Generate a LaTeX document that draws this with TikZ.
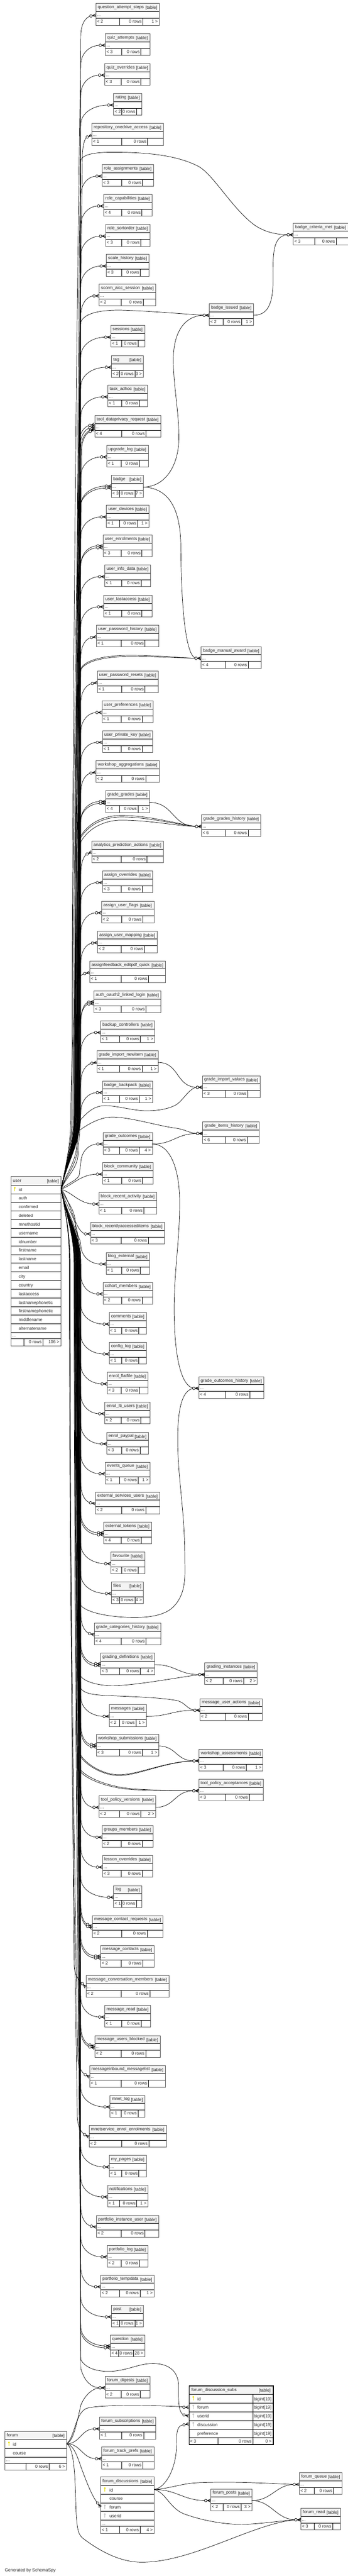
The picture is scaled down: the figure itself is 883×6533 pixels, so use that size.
\documentclass[tikz,border=0pt]{standalone}
\usepackage{fontspec}
\setmainfont{Liberation Sans}
\definecolor{titlebg}{HTML}{F4F4F4}
\definecolor{framegrey}{HTML}{555555}
\definecolor{keyyellow}{HTML}{E8E000}
\definecolor{keygrey}{HTML}{BBBBBB}
\tikzset{
  rel/.style={draw=black,line width=.7pt},
  rowline/.style={draw=black,line width=.75pt},
  tframe/.style={draw=framegrey,line width=.8pt,rectangle,inner sep=0pt},
  ttext/.style={inner sep=0pt,font=\fontsize{8.25pt}{9pt}\selectfont,text=black!85},
  keyp/.style={draw=keyyellow,line width=.9pt},
  keyf/.style={draw=keygrey,line width=.9pt},
  keyn/.style={draw=none},
  ringdot/.style={draw=black,fill=white,line width=.7pt},
  crowline/.style={draw=black,line width=.85pt},
}
\newcommand\setz[2]{\gdef\zoff{#1}\gdef\zsc{#2}}
\newcommand\storeT[3]{%
  \expandafter\xdef\csname XL@#1\endcsname{#2}%
  \expandafter\xdef\csname YM@#1\endcsname{#3}}
% name xl xr d1 d2 top footL footR (zoom coordinates)
\newcommand\tbl[8]{%
  \pgfmathsetmacro\mXl{#2/1.7531}\pgfmathsetmacro\mXr{#3/1.7531}%
  \pgfmathsetmacro\mDa{#4/1.7531}\pgfmathsetmacro\mDb{#5/1.7531}%
  \pgfmathsetmacro\mYt{\zoff+#6/\zsc}%
  \pgfmathsetmacro\mYm{\mYt+30}%
  \storeT{#1}{\mXl}{\mYm}%
  \pgfmathsetmacro\mW{(\mXr-\mXl)*.75}%
  \fill[titlebg] (\mXl,\mYt) rectangle (\mXr,\mYt+21);
  \draw[rowline] (\mXl,\mYt+21) -- (\mXr,\mYt+21) (\mXl,\mYt+38) -- (\mXr,\mYt+38)
     (\mDa,\mYt+38) -- (\mDa,\mYt+55) (\mDb,\mYt+38) -- (\mDb,\mYt+55);
  \node[tframe,anchor=north west,minimum width=\mW pt,minimum height=41.25pt] (#1) at (\mXl,\mYt) {};
  \coordinate (#1-w) at (\mXl,\mYm);
  \coordinate (#1-c) at (\mXl-12.3,\mYm);
  \coordinate (#1-e) at (\mXr,\mYm);
  \node[ttext,anchor=base west] (#1-name) at (\mXl+5,\mYt+13.5) {\detokenize{#1}};
  \node[ttext,anchor=base east] (#1-tag) at (\mXr-4.5,\mYt+15) {[table]};
  \node[ttext,anchor=base west] (#1-dots) at (\mXl+3,\mYt+33) {...};
  \node[ttext,anchor=base west] (#1-fl) at (\mXl+3,\mYt+50) {< #7};
  \node[ttext,anchor=base east] (#1-fm) at (\mDb-3,\mYt+50) {0 rows};
  \if\relax\detokenize{#8}\relax\else
  \node[ttext,anchor=base east] (#1-fr) at (\mXr-3,\mYt+50) {#8 >};
  \fi
}
% table with rows: name xl xr top(px) d1 d2 rows footL footR ; \keydx \txtdx
\newcommand\rowtbl[9]{%
  \pgfmathsetmacro\mH{22+22*\rowsn}%
  \fill[titlebg] (#2,#4) rectangle (#3,#4+22);
  \draw[rowline] (#2,#4+22) -- (#3,#4+22);
  \node[ttext,anchor=base west] (#1-name) at (#2+5,#4+14) {\detokenize{#1}};
  \node[ttext,anchor=base east] (#1-tag) at (#3-4.5,#4+15.5) {[table]};
  \foreach \rn/\rk [count=\ri] in {#7} {
    \draw[rowline] (#2,#4+22+22*\ri) -- (#3,#4+22+22*\ri);
    \node[ttext,anchor=base west] (#1-row\ri) at (#2+\txtdx,#4+15.5+22*\ri) {\rn};
    \draw[\rk] (#2+\keydx,#4+7+22*\ri) circle (1.6) (#2+\keydx,#4+8.5+22*\ri) -- (#2+\keydx,#4+15.5+22*\ri);
  }
  \draw[rowline] (#2,#4+\mH+16) -- (#3,#4+\mH+16)
     (#5,#4+\mH+16) -- (#5,#4+\mH+33) (#6,#4+\mH+16) -- (#6,#4+\mH+33);
  \pgfmathsetmacro\mW{(#3-#2)*.75}\pgfmathsetmacro\mHt{(\mH+33)*.75}%
  \node[tframe,anchor=north west,minimum width=\mW pt,minimum height=\mHt pt] (#1) at (#2,#4) {};
  \node[ttext,anchor=base west] (#1-dots) at (#2+3,#4+\mH+11) {...};
  \if\relax\detokenize{#8}\relax\else
  \node[ttext,anchor=base west] (#1-fl) at (#2+3,#4+\mH+28) {< #8};
  \fi
  \node[ttext,anchor=base east] (#1-fm) at (#6-3,#4+\mH+28) {0 rows};
  \node[ttext,anchor=base east] (#1-fr) at (#3-3,#4+\mH+28) {#9 >};
}
\newcommand\crowat[3]{\begin{scope}[shift={(#1,#2)},rotate=#3]
  \draw[crowline] (-9,0) -- (0,-3.6) (-9,0) -- (0,0) (-9,0) -- (0,3.6);
  \draw[ringdot] (-12.3,0) circle (3.3);
\end{scope}}
\newcommand\crow[2]{\crowat{\csname XL@#1\endcsname}{\csname YM@#1\endcsname}{#2}}
\newcommand\upath[4]{%
  \pgfmathsetmacro\mSg{ifthenelse(#3<3016,-1,1)}%
  \pgfmathsetmacro\mD{min(190,0.6*abs(#3-3016))}%
  \pgfmathsetmacro\mPy{3016+\mSg*\mD}%
  \pgfmathsetmacro\mLl{abs(#3-\mPy)}%
  \pgfmathsetmacro\mCa{3016+\mSg*0.35*\mD}%
  \pgfmathsetmacro\mCb{3016+\mSg*0.6*\mD}%
  \pgfmathsetmacro\mCc{\mPy+\mSg*0.5*\mLl}%
  \pgfmathsetmacro\mCd{#3-\mSg*min(80,0.3*\mLl)}%
  \draw[rel] (user-e) .. controls (168,\mCa) and (#1,\mCb) .. (#1,\mPy) .. controls (#1,\mCc) and (#2,\mCd) .. (#2,#3) #4;
}
% T bx wx tilt dy
\newcommand\ulnk[5]{%
  \pgfmathsetmacro\mEx{\csname XL@#1\endcsname-12.3*cos(#4)}%
  \pgfmathsetmacro\mYe{\csname YM@#1\endcsname+#5}%
  \pgfmathsetmacro\mEy{\mYe+12.3*sin(#4)}%
  \pgfmathsetmacro\mSg{ifthenelse(\mEy<3016,-1,1)}%
  \pgfmathsetmacro\mWy{\mEy-\mSg*48}%
  \pgfmathsetmacro\mK{0.55*(\mEx-#3)}%
  \pgfmathsetmacro\mFx{\mEx-\mK*cos(#4)}%
  \pgfmathsetmacro\mFy{\mEy+\mK*sin(#4)}%
  \pgfmathsetmacro\mGy{\mWy+\mSg*28}%
  \edef\mRest{.. controls (#3+1,\mGy) and (\mFx,\mFy) .. (\mEx,\mEy)}%
  \upath{#2}{#3}{\mWy}{\mRest}%
  \crowat{\csname XL@#1\endcsname}{\mYe}{#4}%
}
\newcount\Un
\newcommand\nextbx{\global\advance\Un by 1 \pgfmathsetmacro\mBx{188+mod(\the\Un*7,18)}}
\newcommand\U[1]{\nextbx\ulnk{#1}{\mBx}{205}{0}{0}}
\newcommand\Ut[2]{\nextbx\ulnk{#1}{\mBx}{205}{#2}{0}}
\newcommand\UU[2]{\nextbx\ulnk{#1}{\mBx}{205}{#2}{-2.5}\nextbx\ulnk{#1}{\mBx}{204}{#2}{2.5}}
\newcommand\Sl[3]{\draw[rel] (#1) to[out=0,in=180,looseness=#3] (#2-c); \crow{#2}{0}}
\begin{document}
\begin{tikzpicture}[x=.75pt,y=-.75pt]
\useasboundingbox (0,0) rectangle (883,6533);
\fill[white] (0,0) rectangle (883,6533);
\setz{0}{1.4255}
\tbl{question_attempt_steps}{426}{708}{533}{636}{12}{2}{1}
\tbl{quiz_attempts}{468}{666}{541}{627}{121}{3}{}
\tbl{quiz_overrides}{465}{667}{539}{627}{229}{3}{}
\tbl{rating}{505}{630}{541}{608}{337}{2}{}
\tbl{repository_onedrive_access}{408}{726}{541}{657}{446}{1}{}
\tbl{role_assignments}{453}{682}{541}{634}{594}{3}{}
\tbl{role_capabilities}{460}{675}{541}{631}{702}{4}{}
\tbl{role_sortorder}{469}{666}{541}{627}{811}{3}{}
\tbl{scale_history}{472}{662}{541}{625}{919}{3}{}
\tbl{scorm_aicc_session}{440}{692}{539}{638}{1027}{2}{}
\tbl{sessions}{492}{643}{541}{614}{1176}{1}{}
\tbl{tag}{495}{637}{533}{600}{1285}{2}{3}
\tbl{task_adhoc}{479}{655}{541}{621}{1392}{1}{}
\tbl{tool_dataprivacy_request}{421}{714}{541}{650}{1501}{4}{}
\tbl{badge_criteria_met}{1304}{1548}{1400}{1496}{806}{3}{}
\tbl{badge_issued}{930}{1127}{993}{1075}{1097}{2}{1}
\setz{1100}{1.4255}
\tbl{upgrade_log}{474}{659}{539}{621}{41}{1}{}
\tbl{badge}{495}{637}{533}{600}{150}{3}{7}
\tbl{user_devices}{473}{662}{533}{612}{258}{1}{1}
\tbl{user_enrolments}{457}{676}{539}{631}{366}{3}{}
\tbl{user_info_data}{465}{669}{541}{628}{474}{1}{}
\tbl{user_lastaccess}{460}{675}{541}{631}{583}{1}{}
\tbl{user_password_history}{428}{705}{539}{645}{691}{1}{}
\tbl{user_password_resets}{432}{703}{541}{645}{857}{1}{}
\tbl{user_preferences}{453}{680}{539}{632}{965}{1}{}
\tbl{user_private_key}{455}{678}{539}{632}{1073}{1}{}
\tbl{workshop_aggregations}{426}{708}{541}{648}{1181}{2}{}
\tbl{grade_grades}{469}{664}{533}{614}{1290}{4}{1}
\tbl{analytics_prediction_actions}{407}{726}{539}{654}{1472}{2}{}
\tbl{badge_manual_award}{894}{1162}{1002}{1105}{769}{4}{}
\tbl{grade_grades_history}{896}{1160}{1002}{1104}{1377}{6}{}
\setz{2200}{1.4255}
\tbl{assign_overrides}{455}{678}{539}{632}{12}{3}{}
\tbl{assign_user_flags}{451}{684}{541}{635}{121}{2}{}
\tbl{assign_user_mapping}{433}{699}{539}{643}{229}{2}{}
\tbl{assignfeedback_editpdf_quick}{398}{735}{539}{661}{337}{1}{}
\tbl{auth_oauth2_linked_login}{417}{715}{539}{650}{446}{3}{}
\tbl{backup_controllers}{447}{687}{533}{625}{554}{1}{1}
\tbl{grade_import_newitem}{430}{703}{533}{632}{662}{1}{1}
\tbl{badge_backpack}{455}{678}{533}{620}{771}{1}{1}
\tbl{grade_import_values}{900}{1157}{1002}{1102}{752}{3}{}
\tbl{grade_items_history}{901}{1153}{1001}{1100}{919}{6}{}
\tbl{grade_outcomes}{457}{677}{533}{620}{957}{3}{4}
\tbl{block_community}{455}{680}{541}{634}{1066}{1}{}
\tbl{block_recent_activity}{439}{696}{541}{640}{1174}{1}{}
\tbl{block_recentlyaccesseditems}{402}{731}{539}{660}{1282}{3}{}
\tbl{blog_external}{471}{664}{541}{625}{1391}{1}{}
\tbl{cohort_members}{457}{678}{541}{632}{1499}{2}{}
\setz{3300}{1.4255}
\tbl{comments}{485}{650}{541}{618}{40}{1}{}
\tbl{config_log}{485}{650}{541}{618}{148}{1}{}
\tbl{enrol_flatfile}{476}{657}{539}{621}{256}{3}{}
\tbl{enrol_lti_users}{465}{667}{539}{627}{364}{2}{}
\tbl{enrol_paypal}{474}{660}{541}{623}{473}{3}{}
\tbl{events_queue}{467}{666}{533}{615}{581}{1}{1}
\tbl{external_services_users}{424}{710}{541}{648}{689}{2}{}
\tbl{external_tokens}{460}{673}{539}{628}{798}{4}{}
\tbl{favourite}{492}{643}{541}{614}{906}{2}{}
\tbl{files}{495}{637}{533}{600}{1014}{3}{4}
\tbl{grade_categories_history}{419}{714}{539}{650}{1163}{4}{}
\tbl{grading_definitions}{447}{687}{533}{625}{1271}{3}{4}
\tbl{messages}{485}{650}{533}{605}{1458}{2}{1}
\tbl{grade_outcomes_history}{884}{1173}{1002}{1111}{272}{4}{}
\tbl{grading_instances}{910}{1144}{993}{1084}{1307}{2}{2}
\tbl{message_user_actions}{889}{1166}{1001}{1105}{1436}{2}{}
\setz{4400}{1.4255}
\tbl{workshop_submissions}{428}{705}{533}{634}{-3}{3}{1}
\tbl{workshop_assessments}{885}{1169}{993}{1096}{51}{3}{1}
\tbl{tool_policy_acceptances}{884}{1171}{1001}{1109}{159}{3}{}
\tbl{tool_policy_versions}{440}{692}{533}{627}{219}{2}{2}
\tbl{groups_members}{453}{680}{539}{632}{327}{2}{}
\tbl{lesson_overrides}{455}{678}{539}{632}{435}{3}{}
\tbl{log}{505}{630}{541}{608}{544}{1}{}
\tbl{message_contact_requests}{410}{724}{541}{655}{652}{2}{}
\tbl{message_contacts}{447}{685}{539}{635}{760}{2}{}
\tbl{message_conversation_members}{382}{751}{539}{667}{869}{2}{}
\tbl{message_read}{465}{669}{541}{628}{977}{1}{}
\tbl{message_users_blocked}{421}{712}{539}{648}{1086}{2}{}
\tbl{messageinbound_messagelist}{398}{735}{539}{661}{1194}{1}{}
\tbl{mnet_log}{489}{644}{539}{614}{1302}{1}{}
\tbl{mnetservice_enrol_enrolments}{396}{739}{541}{662}{1411}{2}{}
\tbl{my_pages}{485}{650}{541}{618}{1519}{1}{}
\setz{5500}{1.518}
\tbl{notifications}{478}{657}{533}{609}{63}{1}{1}
\tbl{portfolio_instance_user}{428}{705}{539}{645}{179}{2}{}
\tbl{portfolio_log}{476}{657}{539}{621}{294}{2}{}
\tbl{portfolio_tempdata}{447}{685}{533}{623}{409}{2}{1}
\tbl{post}{495}{637}{533}{600}{525}{1}{1}
\tbl{question}{490}{643}{527}{595}{640}{4}{28}
\tbl{forum_digests}{467}{666}{539}{625}{798}{2}{}
\tbl{forum_subscriptions}{442}{692}{541}{639}{956}{1}{}
\tbl{forum_track_prefs}{451}{684}{541}{635}{1071}{1}{}
\tbl{forum_posts}{937}{1120}{993}{1072}{1232}{2}{3}
\tbl{forum_queue}{1331}{1521}{1399}{1484}{1170}{2}{}
\tbl{forum_read}{1338}{1514}{1399}{1480}{1306}{3}{}
% tables with rows
\def\rowsn{17}\def\keydx{10}\def\txtdx{20}
\rowtbl{user}{27.4}{154}{2983.5}{60.5}{109}{id/keyp,auth/keyn,confirmed/keyn,deleted/keyn,mnethostid/keyn,username/keyn,idnumber/keyn,firstname/keyn,lastname/keyn,email/keyn,city/keyn,country/keyn,lastaccess/keyn,lastnamephonetic/keyn,firstnamephonetic/keyn,middlename/keyn,alternatename/keyn}{}{106}
\coordinate (user-e) at (155,3016);
\def\rowsn{2}\def\keydx{10.8}\def\txtdx{20.5}
\rowtbl{forum}{12}{168.3}{6165.3}{65.6}{125}{id/keyp,course/keyn}{}{6}
\coordinate (forum-e) at (169,6197.6);
\def\rowsn{4}\def\keydx{11}\def\txtdx{23}
\rowtbl{forum_discussions}{255}{391}{6281.3}{304}{356}{id/keyp,course/keyn,forum/keyf,userid/keyf}{1}{4}
\coordinate (forum_discussions-e) at (391,6313.6);
% focal table
\fill[titlebg] (479,6050) rectangle (692.5,6072.5);
\draw[rowline] (479,6072.5) -- (692.5,6072.5);
\node[ttext,anchor=base west] (subs-name) at (485.5,6064) {\detokenize{forum_discussion_subs}};
\node[ttext,anchor=base east] (subs-tag) at (687,6065.5) {[table]};
\foreach \rn/\rk [count=\ri] in {id/keyp,forum/keyf,userid/keyf,discussion/keyf,preference/keyn} {
  \draw[rowline] (479,6072.5+22*\ri) -- (692.5,6072.5+22*\ri);
  \node[ttext,anchor=base west] (subs-row\ri) at (500.8,6065.5+22*\ri) {\rn};
  \node[ttext,anchor=base west] (subs-type\ri) at (644,6065.5+22*\ri) {bigint[19]};
  \draw[\rk] (490.6,6057+22*\ri) circle (1.6) (490.6,6058.5+22*\ri) -- (490.6,6065.5+22*\ri);
}
\draw[rowline] (641.7,6072.5) -- (641.7,6199) (552.7,6182.5) -- (552.7,6199);
\node[draw=black,line width=1.6pt,rectangle,inner sep=0pt,anchor=north west,minimum width=160.1pt,minimum height=111.7pt] (subs) at (479,6050) {};
\node[ttext,anchor=base west] (subs-fl) at (482,6195) {< 3};
\node[ttext,anchor=base east] (subs-fm) at (638.7,6195) {0 rows};
\node[ttext,anchor=base east] (subs-fr) at (689.5,6195) {0 >};
\coordinate (subs-forum) at (467.8,6104);
\coordinate (subs-userid) at (467,6124.4);
\coordinate (subs-disc) at (467,6149.6);
\node[ttext,anchor=base west] (credit) at (12,6522) {Generated by SchemaSpy};
% ---- links from user
\nextbx\ulnk{question_attempt_steps}{183}{205}{10}{0}
\U{quiz_attempts}
\U{quiz_overrides}
\U{rating}
\nextbx\ulnk{repository_onedrive_access}{190}{209}{22}{0}
\U{role_assignments}
\U{role_capabilities}
\U{role_sortorder}
\U{scale_history}
\U{scorm_aicc_session}
\U{sessions}
\U{tag}
\U{task_adhoc}
\ulnk{tool_dataprivacy_request}{183}{200}{12}{-7}
\ulnk{tool_dataprivacy_request}{186}{203}{18}{-2}
\ulnk{tool_dataprivacy_request}{192}{205}{25}{3}
\ulnk{tool_dataprivacy_request}{197}{207}{25}{6}
\U{upgrade_log}
\UU{badge}{0}
\U{user_devices}
\UU{user_enrolments}{0}
\U{user_info_data}
\U{user_lastaccess}
\Ut{user_password_history}{10}
\Ut{user_password_resets}{10}
\U{user_preferences}
\U{user_private_key}
\Ut{workshop_aggregations}{10}
\UU{grade_grades}{0}
\nextbx\ulnk{analytics_prediction_actions}{\mBx}{205}{25}{-2}
\U{assign_overrides}
\U{assign_user_flags}
\Ut{assign_user_mapping}{5}
\ulnk{assignfeedback_editpdf_quick}{180}{190}{12}{0}
\UU{auth_oauth2_linked_login}{5}
\U{backup_controllers}
\Ut{grade_import_newitem}{10}
\U{badge_backpack}
\U{grade_outcomes}
\draw[rel] (user-e) .. controls (185,3005) and (205,2978) .. (block_community-c); \crow{block_community}{0}
\draw[rel] (user-e) .. controls (185,3025) and (200,3052) .. (block_recent_activity-c); \crow{block_recent_activity}{0}
\draw[rel] (user-e) .. controls (178,3040) and (190,3125) .. (block_recentlyaccesseditems-c); \crow{block_recentlyaccesseditems}{0}
\U{blog_external}
\U{cohort_members}
\U{comments}
\U{config_log}
\U{enrol_flatfile}
\U{enrol_lti_users}
\U{enrol_paypal}
\U{events_queue}
\nextbx\ulnk{external_services_users}{\mBx}{205}{-10}{0}
\UU{external_tokens}{0}
\U{favourite}
\U{files}
\nextbx\ulnk{grade_categories_history}{\mBx}{205}{-15}{0}
\UU{grading_definitions}{0}
\U{messages}
\UU{workshop_submissions}{-5}
\U{tool_policy_versions}
\U{groups_members}
\U{lesson_overrides}
\U{log}
\UU{message_contact_requests}{-20}
\UU{message_contacts}{0}
\ulnk{message_conversation_members}{178}{188}{-45}{0}
\U{message_read}
\UU{message_users_blocked}{-15}
\ulnk{messageinbound_messagelist}{177}{197}{-30}{0}
\U{mnet_log}
\ulnk{mnetservice_enrol_enrolments}{176}{196}{-30}{0}
\U{my_pages}
\U{notifications}
\Ut{portfolio_instance_user}{-10}
\U{portfolio_log}
\U{portfolio_tempdata}
\U{post}
\UU{question}{0}
% ---- user links to the far tables
\upath{198}{205}{407}{.. controls (208,392) and (240,386) .. (285,386) .. controls (380,386) and (450,395) .. (502,421) .. controls (540,440) and (590,530) .. (645,570) .. controls (670,588) and (700,595) .. (badge_criteria_met-c)}
\crow{badge_criteria_met}{0}
\upath{197}{205}{817}{.. controls (215,790) and (270,785) .. (319,787) .. controls (380,789) and (450,795) .. (badge_issued-c)}
\crow{badge_issued}{0}
\upath{199}{205}{1696}{.. controls (215,1675) and (260,1662) .. (330,1662) .. controls (400,1662) and (450,1668) .. (badge_manual_award-c)}
\upath{196}{205}{1699}{.. controls (215,1678) and (260,1665) .. (330,1665) .. controls (400,1665) and (450,1668) .. (badge_manual_award-c)}
\crow{badge_manual_award}{0}
\upath{196}{202.5}{2124}{.. controls (225,2085) and (265,2068) .. (308,2068) .. controls (380,2068) and (450,2090) .. (grade_grades_history-c)}
\upath{199}{202.5}{2128}{.. controls (225,2090) and (265,2072) .. (308,2072) .. controls (380,2072) and (450,2092) .. (grade_grades_history-c)}
\upath{193}{205}{2135}{.. controls (225,2100) and (265,2080) .. (308,2080) .. controls (380,2080) and (450,2095) .. (grade_grades_history-c)}
\crow{grade_grades_history}{0}
\upath{196}{202.5}{2842}{.. controls (222,2820) and (240,2803) .. (270,2804) .. controls (300,2805) and (340,2817) .. (371,2817) .. controls (400,2817) and (425,2813) .. (445,2803) .. controls (465,2792) and (480,2758) .. (grade_import_values-c)}
\crow{grade_import_values}{0}
\upath{198}{202.5}{2866}{.. controls (225,2850) and (255,2833) .. (285,2833) .. controls (330,2833) and (400,2855) .. (445,2861) .. controls (470,2864) and (480,2874) .. (grade_items_history-c)}
\crow{grade_items_history}{0}
\upath{199}{202.5}{4068}{.. controls (215,4090) and (280,4102) .. (342,4102) .. controls (385,4102) and (420,4095) .. (440,4075) .. controls (475,4040) and (469,3990) .. (469,3950) .. controls (469,3830) and (451,3750) .. (451,3650) .. controls (451,3580) and (460,3525) .. (grade_outcomes_history-c)}
\crow{grade_outcomes_history}{0}
\upath{197}{202.5}{4247}{.. controls (210,4265) and (250,4275) .. (285,4275) .. controls (340,4275) and (440,4256) .. (grading_instances-c)}
\crow{grading_instances}{0}
\upath{195}{202.5}{4278}{.. controls (210,4295) and (235,4298) .. (270,4300) .. controls (340,4303) and (410,4305) .. (450,4313) .. controls (470,4318) and (475,4335) .. (message_user_actions-c)}
\crow{message_user_actions}{0}
\upath{198}{202.5}{4452}{.. controls (220,4480) and (265,4503) .. (302,4503) .. controls (350,4503) and (420,4468) .. (workshop_assessments-c)}
\upath{196}{204}{4450}{.. controls (222,4478) and (265,4501) .. (302,4501) .. controls (350,4501) and (420,4467) .. (workshop_assessments-c)}
\crow{workshop_assessments}{0}
\upath{198}{202.5}{4491}{.. controls (215,4510) and (270,4535) .. (342,4539) .. controls (400,4541) and (450,4541) .. (tool_policy_acceptances-c)}
\upath{194}{204}{4488}{.. controls (218,4506) and (270,4532) .. (342,4537) .. controls (400,4541) and (450,4541) .. (tool_policy_acceptances-c)}
\crow{tool_policy_acceptances}{0}
\upath{198}{205}{5984}{.. controls (215,6003) and (240,6014) .. (275,6014) .. controls (320,6014) and (350,5994) .. (388,5994) .. controls (430,5994) and (453,6015) .. (453,6050) .. controls (453,6085) and (452,6120) .. (subs-userid)}
\crowat{479}{6127}{-12}
\upath{197}{205}{6007}{.. controls (212,6030) and (225,6055) .. (forum_digests-c)}
\crow{forum_digests}{0}
% ---- other links
\draw[rel] (badge-e) .. controls (420,1235) and (454,1180) .. (454,1110) .. controls (454,1040) and (440,980) .. (440,912) .. controls (440,840) and (470,800) .. (badge_issued-c);
\draw[rel] (badge_issued-e) .. controls (680,800) and (693,770) .. (693,710) .. controls (693,650) and (690,596) .. (badge_criteria_met-c);
\draw[rel] (badge-e) .. controls (440,1238) and (459,1310) .. (459,1390) .. controls (460,1530) and (470,1665) .. (badge_manual_award-c);
\Sl{grade_grades-e}{grade_grades_history}{1.2}
\Sl{grade_import_newitem-e}{grade_import_values}{1.2}
\Sl{grade_outcomes-e}{grade_items_history}{1.2}
\draw[rel] (grade_outcomes-e) .. controls (430,2901) and (456,2960) .. (456,3050) .. controls (456,3150) and (442,3220) .. (442,3320) .. controls (442,3420) and (455,3515) .. (grade_outcomes_history-c);
\Sl{grading_definitions-e}{grading_instances}{1.2}
\Sl{messages-e}{message_user_actions}{1.2}
\Sl{workshop_submissions-e}{workshop_assessments}{1.2}
\Sl{tool_policy_versions-e}{tool_policy_acceptances}{1.2}
\crow{badge_issued}{0}
\crow{badge_criteria_met}{0}
\crow{badge_manual_award}{0}
\crow{grade_outcomes_history}{0}
% ---- forum
\draw[rel] (forum-e) .. controls (190,6180) and (190,6125) .. (217,6109) .. controls (240,6097) and (400,6100) .. (subs-forum);
\crowat{479}{6105}{0}
\draw[rel] (forum_discussions-e) .. controls (420,6310) and (448,6260) .. (448,6200) .. controls (448,6165) and (450,6150) .. (subs-disc);
\crowat{479}{6147}{12}
\draw[rel] (forum-e) .. controls (185,6190) and (192,6160) .. (205,6100) .. controls (215,6075) and (235,6056) .. (forum_digests-c);
\crow{forum_digests}{0}
\draw[rel] (forum-e) to[out=0,in=180,looseness=1.1] (forum_subscriptions-c);
\crow{forum_subscriptions}{0}
\draw[rel] (forum-e) to[out=0,in=180,looseness=1.1] (forum_track_prefs-c);
\crow{forum_track_prefs}{0}
\coordinate (fdisc-c) at (248,6348);
\draw[rel] (forum-e) .. controls (185,6200) and (195,6225) .. (205,6255) .. controls (218,6290) and (235,6335) .. (fdisc-c);
\crowat{255}{6358}{-55}
\draw[rel] (forum-e) .. controls (194,6210) and (190,6330) .. (194,6385) .. controls (197,6420) and (200,6428) .. (210,6437) .. controls (260,6475) and (310,6498) .. (360,6498) .. controls (490,6498) and (640,6400) .. (forum_read-c);
\draw[rel] (forum_discussions-e) .. controls (420,6320) and (430,6360) .. (466,6375) .. controls (520,6395) and (580,6403) .. (620,6402) .. controls (670,6400) and (720,6392) .. (forum_read-c);
\crow{forum_read}{0}
\draw[rel] (forum_discussions-e) to[out=0,in=180,looseness=1.1] (forum_posts-c);
\crow{forum_posts}{0}
\draw[rel] (forum_discussions-e) .. controls (440,6310) and (460,6297) .. (513,6296) .. controls (600,6293) and (680,6298) .. (forum_queue-c);
\draw[rel] (forum_posts-e) .. controls (690,6342) and (700,6301) .. (forum_queue-c);
\crow{forum_queue}{0}
\draw[rel] (forum_posts-e) .. controls (690,6342) and (700,6390) .. (forum_read-c);
\crow{forum_read}{0}
\end{tikzpicture}
\end{document}
